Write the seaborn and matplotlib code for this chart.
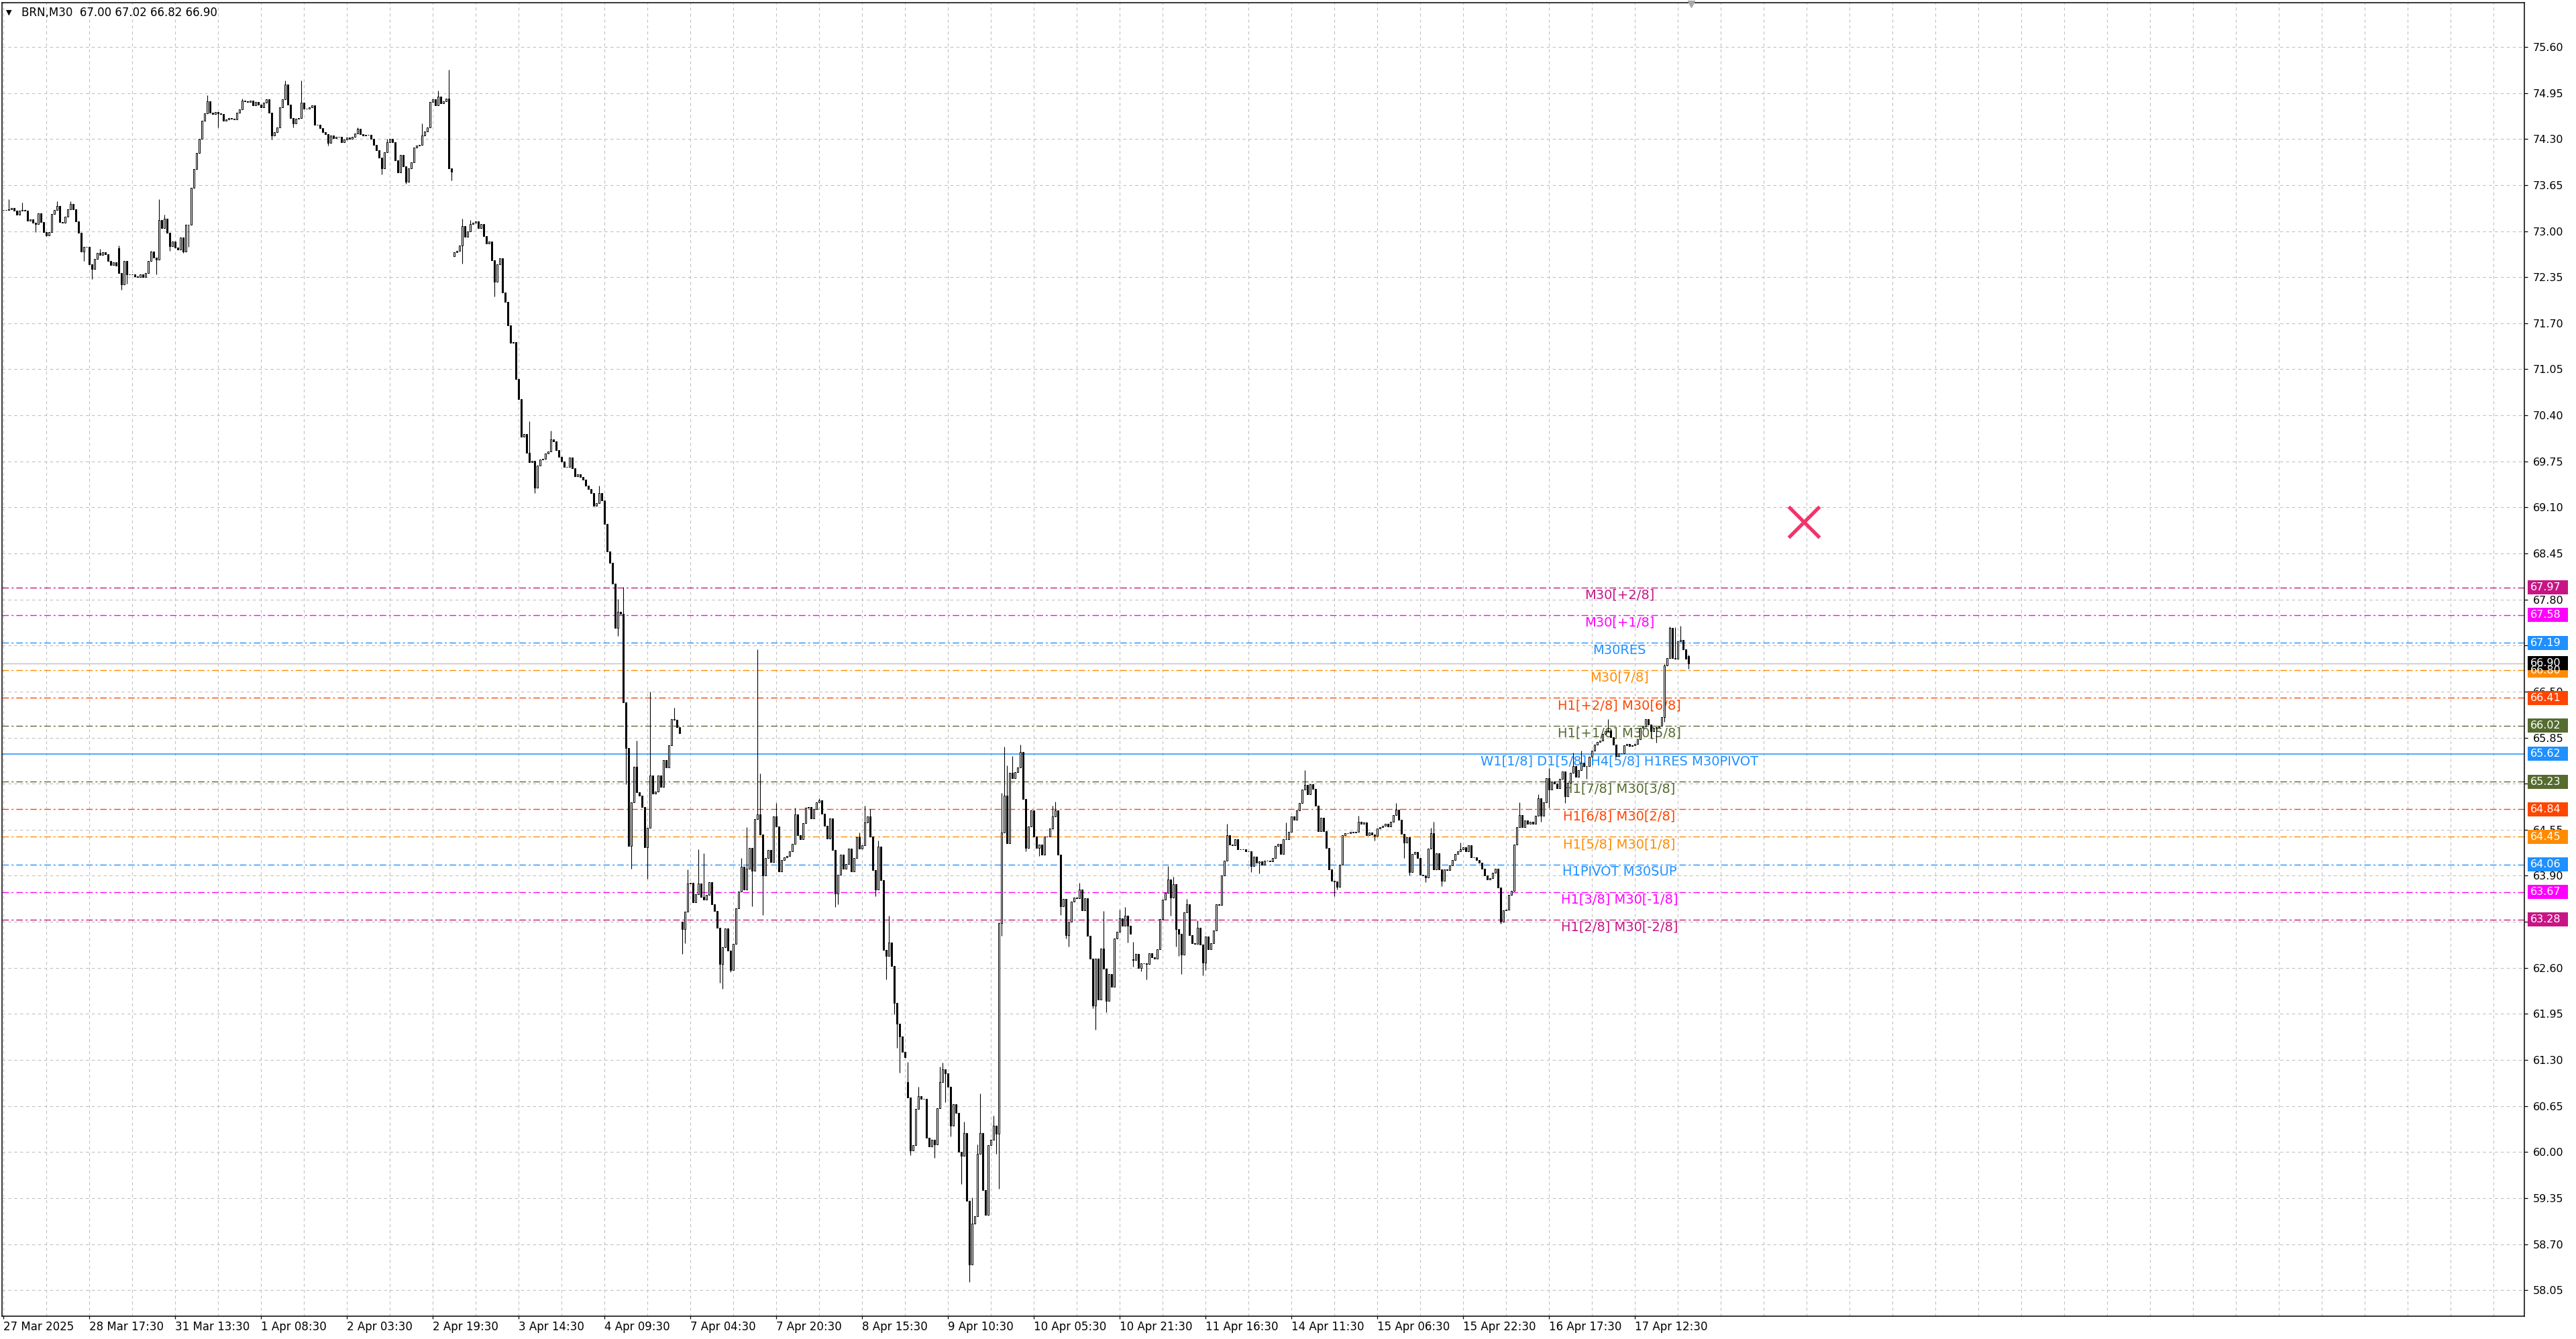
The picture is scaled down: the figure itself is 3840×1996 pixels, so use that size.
import numpy as np
import pandas as pd
import matplotlib
matplotlib.use("Agg")
import matplotlib.pyplot as plt
import seaborn as sns
from matplotlib.patches import Rectangle
from matplotlib.transforms import blended_transform_factory

# ---------------- data (M30 closes) ----------------
closes_27mar_2apr = [
    73.30, 73.30, 73.31, 73.33, 73.29, 73.23, 73.29, 73.30, 73.29, 73.15,
    73.17, 73.12, 73.10, 73.25, 73.13, 72.99, 72.94, 72.99, 73.24, 73.30,
    73.36, 73.13, 73.12, 73.20, 73.31, 73.38, 73.31, 73.14, 72.98, 72.71,
    72.78, 72.78, 72.53, 72.47, 72.61, 72.69, 72.66, 72.70, 72.67, 72.58,
    72.52, 72.56, 72.51, 72.41, 72.25, 72.58, 72.39, 72.39, 72.39, 72.36,
    72.35, 72.39, 72.35, 72.41, 72.58, 72.71, 72.63, 72.60, 73.16, 73.04,
    73.18, 72.98, 72.79, 72.85, 72.77, 72.74, 72.91, 72.71, 73.09, 73.09,
    73.61, 73.88, 74.10, 74.30, 74.56, 74.66, 74.83, 74.67, 74.65, 74.68,
    74.66, 74.65, 74.56, 74.58, 74.60, 74.59, 74.58, 74.67, 74.72, 74.84,
    74.83, 74.82, 74.84, 74.78, 74.82, 74.79, 74.75, 74.81, 74.86, 74.67,
    74.35, 74.40, 74.46, 74.75, 74.86, 75.07, 74.79, 74.60, 74.52, 74.59,
    74.60, 74.81, 74.73, 74.73, 74.75, 74.78, 74.50, 74.50, 74.45, 74.40,
    74.37, 74.25, 74.35, 74.31, 74.33, 74.33, 74.26, 74.29, 74.32, 74.30,
    74.33, 74.38, 74.44, 74.37, 74.35, 74.36, 74.36, 74.30, 74.22, 74.14,
    74.04, 73.89, 74.11, 74.26, 74.30, 74.26, 74.00, 73.83, 74.08, 73.91,
    73.70, 73.89, 73.97, 74.18, 74.21, 74.22, 74.35, 74.41, 74.46, 74.82,
    74.86, 74.78, 74.90, 74.80, 74.83, 74.87, 73.89, 73.84,
]
closes_3apr_4apr = [
    72.70, 72.72, 72.80, 73.07, 72.92, 73.00, 73.10, 73.12, 73.14, 73.04,
    73.10, 72.93, 72.83, 72.85, 72.59, 72.29, 72.53, 72.62, 72.13, 72.00,
    71.67, 71.42, 71.43, 70.91, 70.63, 70.10, 70.14, 69.87, 69.74, 69.76,
    69.38, 69.69, 69.78, 69.79, 69.86, 69.89, 70.06, 70.03, 69.91, 69.81,
    69.75, 69.67, 69.67, 69.80, 69.65, 69.54, 69.57, 69.53, 69.49, 69.41,
    69.36, 69.30, 69.12, 69.16, 69.30, 69.20, 68.87, 68.48, 68.32, 68.02,
    67.40, 67.63, 67.60, 66.35, 65.70, 64.32, 64.94, 65.44, 65.08, 65.03,
    64.87, 64.30, 64.58, 65.32, 65.06, 65.09, 65.32, 65.15, 65.53, 65.43,
    65.74, 66.11, 66.10, 66.00, 65.91,
]
closes_7apr_9apr = [
    63.15, 63.39, 63.79, 63.80, 63.53, 63.64, 63.79, 63.60, 63.56, 63.63,
    63.81, 63.50, 63.40, 63.17, 62.65, 62.89, 63.16, 62.84, 62.57, 62.94,
    63.44, 63.68, 64.03, 63.71, 64.00, 64.29, 63.97, 64.70, 64.77, 64.48,
    63.90, 64.15, 64.26, 64.09, 64.74, 64.60, 63.96, 64.12, 64.16, 64.18,
    64.25, 64.35, 64.77, 64.47, 64.42, 64.64, 64.86, 64.87, 64.71, 64.84,
    64.94, 64.97, 64.78, 64.61, 64.43, 64.71, 64.26, 63.65, 63.91, 64.20,
    64.00, 64.07, 64.28, 63.96, 64.15, 64.44, 64.28, 64.33, 64.65, 64.74,
    64.45, 63.98, 63.71, 64.31, 63.84, 62.85, 62.77, 62.96, 62.63, 62.11,
    61.81, 61.63, 61.41, 61.34, 60.77, 60.02, 60.10, 60.61, 60.79, 60.75,
    60.75, 60.20, 60.08, 60.17, 60.11, 60.62, 60.99, 61.17, 61.11, 60.92,
    60.37, 60.68, 60.55, 60.00, 59.95, 60.27, 59.31, 58.41, 58.99, 59.09,
    59.97, 60.27, 59.46, 59.11, 60.10, 60.17, 60.37, 60.26,
]
closes_9apr_14apr = [
    63.23, 64.51, 65.03, 64.36, 65.35, 65.28, 65.36, 65.43, 65.65, 64.98,
    64.29, 64.60, 64.82, 64.45, 64.29, 64.34, 64.20, 64.45, 64.45, 64.57,
    64.74, 64.82, 64.20, 63.47, 63.57, 63.06, 63.25, 63.54, 63.59, 63.58,
    63.71, 63.41, 63.58, 63.05, 62.73, 62.07, 62.73, 62.15, 62.87, 62.59,
    62.13, 62.51, 62.33, 63.01, 63.11, 63.30, 63.19, 63.34, 63.19, 63.08,
    62.71, 62.80, 62.60, 62.66, 62.66, 62.65, 62.81, 62.75, 62.73, 62.86,
    63.29, 63.56, 63.66, 63.85, 63.59, 63.78, 63.15, 63.08, 62.79, 63.38,
    63.50, 63.06, 62.95, 62.94, 63.17, 62.93, 62.67, 63.04, 62.86, 62.95,
    63.13, 63.50, 63.49, 63.90, 64.11, 64.47, 64.34, 64.33, 64.42, 64.27,
    64.27, 64.27, 64.25, 64.25, 64.04, 64.17, 64.08, 64.10, 64.06, 64.11,
    64.11, 64.10, 64.15, 64.32, 64.35, 64.21, 64.42, 64.42, 64.52, 64.74,
    64.69, 64.82, 64.93, 65.12, 65.18, 65.05, 65.19, 65.13, 64.89, 64.53,
    64.72, 64.53, 64.29, 63.99, 63.83, 63.82, 63.74, 64.06,
]
closes_14apr_17apr = [
    64.47, 64.50, 64.50, 64.52, 64.51, 64.52, 64.66, 64.63, 64.65, 64.47,
    64.51, 64.48, 64.46, 64.57, 64.59, 64.61, 64.63, 64.60, 64.66, 64.76,
    64.83, 64.69, 64.49, 64.37, 64.44, 63.95, 64.21, 64.24, 64.15, 63.91,
    63.90, 63.88, 64.28, 64.50, 63.99, 64.22, 63.99, 63.83, 63.99, 63.98,
    64.05, 64.12, 64.21, 64.25, 64.27, 64.30, 64.25, 64.33, 64.16, 64.16,
    64.12, 64.08, 64.00, 63.90, 63.85, 63.87, 63.94, 64.00, 63.73, 63.25,
    63.41, 63.42, 63.63, 63.69, 64.34, 64.59, 64.76, 64.59, 64.68, 64.63,
    64.66, 64.63, 64.75, 64.99, 64.75, 64.94, 65.28, 65.12, 65.23, 65.20,
    65.14, 65.27, 65.37, 65.02, 65.21, 65.35, 65.45, 65.30, 65.39, 65.50,
    65.45, 65.45, 65.58, 65.67, 65.75, 65.79, 65.81, 65.90, 65.94, 65.95,
    65.86, 65.75, 65.59, 65.63, 65.63, 65.74, 65.76, 65.73, 65.74, 65.76,
    65.83, 65.99, 66.01, 66.11, 66.04, 65.94, 65.99, 66.00, 66.02, 66.14,
    66.87, 66.97, 67.40, 66.97, 66.96, 67.21, 67.23, 67.10, 66.96, 66.90,
]

# opens that differ from the previous close (session gaps)
open_gaps = {43: 72.76, 168: 72.65, 253: 63.25, 337: 60.99, 421: 62.72, 628: 67.00}

# wick extremes (bar index -> price)
wick_highs = {
    2: 73.45, 7: 73.40, 20: 73.42, 25: 73.42, 36: 72.75, 43: 72.80, 55: 72.72, 58: 73.45,
    60: 73.23, 76: 74.92, 89: 74.87, 105: 75.13, 111: 75.13, 132: 74.46, 143: 74.30,
    156: 74.52, 162: 74.98, 166: 75.28, 171: 73.18, 174: 73.16, 196: 70.32, 204: 70.18,
    222: 69.41, 229: 67.81, 231: 67.98, 236: 65.81, 241: 66.50, 250: 66.27, 255: 63.99,
    259: 64.27, 261: 64.22, 275: 64.15, 277: 64.59, 281: 67.10, 282: 65.34, 288: 64.93,
    295: 64.86, 304: 64.99, 319: 64.51, 321: 64.89, 323: 64.84, 326: 64.40, 330: 63.34,
    337: 61.27, 341: 60.92, 349: 61.21, 350: 61.26, 358: 60.43, 361: 59.36, 363: 60.11,
    364: 60.83, 369: 60.51, 372: 65.07, 373: 65.72, 374: 65.46, 376: 65.59, 379: 65.75,
    391: 64.89, 392: 64.95, 401: 63.80, 410: 63.40, 416: 63.42, 418: 63.46, 421: 62.97,
    434: 64.04, 436: 63.89, 441: 63.57, 445: 63.27, 456: 64.63, 478: 64.65, 485: 65.39,
    505: 64.75, 519: 64.93, 532: 64.58, 533: 64.66, 543: 64.37, 565: 64.94, 572: 65.05,
    576: 65.42, 585: 65.64, 588: 65.67, 598: 66.11, 619: 66.89, 621: 67.42, 623: 67.41,
    625: 67.43, 628: 67.02,
}
wick_lows = {
    12: 72.99, 16: 72.93, 30: 72.58, 33: 72.32, 44: 72.17, 46: 72.26, 57: 72.39, 62: 72.72,
    67: 72.69, 69: 72.78, 80: 74.46, 100: 74.29, 108: 74.46, 121: 74.21, 141: 73.80,
    150: 73.67, 167: 73.72, 171: 72.54, 183: 72.08, 198: 69.30, 229: 67.29, 232: 65.19,
    234: 64.00, 240: 63.86, 253: 62.80, 254: 62.95, 267: 62.39, 268: 62.30, 271: 62.54,
    279: 63.47, 283: 63.35, 310: 63.46, 311: 63.50, 325: 63.61, 329: 62.44, 332: 61.94,
    333: 61.47, 334: 61.12, 338: 59.96, 347: 59.92, 351: 60.70, 353: 60.22, 357: 59.55,
    360: 58.17, 370: 59.97, 371: 59.48, 372: 63.05, 381: 64.25, 386: 64.18, 394: 63.35,
    396: 63.01, 397: 62.90, 406: 62.03, 407: 61.73, 411: 61.97, 419: 62.96, 421: 62.62,
    424: 62.55, 426: 62.44, 435: 63.34, 437: 62.90, 438: 62.77, 439: 62.51, 447: 62.49,
    448: 62.57, 465: 63.95, 468: 63.93, 496: 63.61, 497: 63.71, 511: 64.40, 522: 64.15,
    524: 63.90, 530: 63.81, 536: 63.75, 558: 63.22, 573: 64.66, 576: 64.86, 582: 64.93,
    590: 65.27, 614: 65.85, 616: 65.78, 619: 66.07, 628: 66.82,
}

time_labels = ["27 Mar 2025", "28 Mar 17:30", "31 Mar 13:30", "1 Apr 08:30", "2 Apr 03:30",
               "2 Apr 19:30", "3 Apr 14:30", "4 Apr 09:30", "7 Apr 04:30", "7 Apr 20:30",
               "8 Apr 15:30", "9 Apr 10:30", "10 Apr 05:30", "10 Apr 21:30", "11 Apr 16:30",
               "14 Apr 11:30", "15 Apr 06:30", "15 Apr 22:30", "16 Apr 17:30", "17 Apr 12:30"]

level_prices = [67.97, 67.58, 67.19, 66.80, 66.41, 66.02, 65.62, 65.23, 64.84, 64.45, 64.06, 63.67, 63.28]
level_names = ["M30[+2/8]", "M30[+1/8]", "M30RES", "M30[7/8]", "H1[+2/8] M30[6/8]",
               "H1[+1/8] M30[5/8]", "W1[1/8] D1[5/8] H4[5/8] H1RES M30PIVOT",
               "H1[7/8] M30[3/8]", "H1[6/8] M30[2/8]", "H1[5/8] M30[1/8]", "H1PIVOT M30SUP",
               "H1[3/8] M30[-1/8]", "H1[2/8] M30[-2/8]"]
level_colors = ["#C71585", "#FF00FF", "#1E90FF", "#FF8C00", "#FF4500", "#556B2F", "#1E90FF",
                "#556B2F", "#FF4500", "#FF8C00", "#1E90FF", "#FF00FF", "#C71585"]
level_solid = [False, False, False, False, False, False, True, False, False, False, False, False, False]

bid_price = 66.90
header = "BRN,M30  67.00 67.02 66.82 66.90"
y_ticks = [58.05, 58.70, 59.35, 60.00, 60.65, 61.30, 61.95, 62.60, 63.25, 63.90, 64.55, 65.20,
           65.85, 66.50, 67.15, 67.80, 68.45, 69.10, 69.75, 70.40, 71.05, 71.70, 72.35, 73.00,
           73.65, 74.30, 74.95, 75.60]
marker_bar = [671]
marker_price = [68.90]

# ---------------- build OHLC ----------------
closes = np.array(closes_27mar_2apr + closes_3apr_4apr + closes_7apr_9apr +
                  closes_9apr_14apr + closes_14apr_17apr)
n = len(closes)
opens = np.r_[closes[0], closes[:-1]]
for i, v in open_gaps.items():
    if i < n:
        opens[i] = v
highs = np.maximum(opens, closes)
lows = np.minimum(opens, closes)
for i, v in wick_highs.items():
    if i < n:
        highs[i] = max(highs[i], v)
for i, v in wick_lows.items():
    if i < n:
        lows[i] = min(lows[i], v)
df = pd.DataFrame({"bar": np.arange(n), "open": opens, "high": highs, "low": lows, "close": closes})
df["up"] = df["close"] >= df["open"]

# ---------------- figure ----------------
sns.set_theme(style="white")
plt.rcParams["font.family"] = ["DejaVu Sans"]

W, H = 3840, 1996
fig = plt.figure(figsize=(W / 100, H / 100), dpi=100)
fig.patch.set_facecolor("white")
ax_l, ax_r, ax_t, ax_b = 3, 3763, 4, 1962
ax = fig.add_axes([ax_l / W, 1 - ax_b / H, (ax_r - ax_l) / W, (ax_b - ax_t) / H])
ax.set_facecolor("white")

ymin, ymax = 57.683, 76.225
xmin, xmax = -0.5, 939.5
ax.set_xlim(xmin, xmax)
ax.set_ylim(ymin, ymax)

# grid / ticks
grid_kw = dict(color="#C0C0C0", linestyle=(0, (4, 4)), linewidth=0.8)
major_x = [32 * k for k in range(len(time_labels))]
minor_x = [16 * k for k in range(1, 59) if 16 * k not in major_x]
ax.set_xticks(major_x)
ax.set_xticklabels(time_labels, ha="left")
ax.set_xticks(minor_x, minor=True)
ax.set_yticks(y_ticks)
ax.set_yticklabels([f"{v:.2f}" for v in y_ticks])
ax.yaxis.tick_right()
ax.set_axisbelow(True)
ax.grid(which="both", axis="x", **grid_kw)
ax.grid(which="major", axis="y", **grid_kw)
ax.tick_params(axis="x", which="major", length=3, width=0.9, pad=2, labelsize=12, colors="black",
               direction="out", bottom=True)
ax.tick_params(axis="x", which="minor", length=0)
ax.tick_params(axis="y", which="major", length=3.6, width=0.9, pad=5.5, labelsize=11.5,
               colors="black", direction="out", right=True, left=False)
for s in ax.spines.values():
    s.set_color("black")
    s.set_linewidth(1.1)

# level lines
for p, c, solid in zip(level_prices, level_colors, level_solid):
    if solid:
        ax.axhline(p, color=c, linewidth=1.1, zorder=1)
    else:
        ax.axhline(p, color=c, linewidth=1.0, linestyle=(0, (7, 3, 2, 3)), zorder=1)
ax.axhline(bid_price, color="#C0C0C0", linewidth=1.0, zorder=1)

# level labels
label_bar = 602.25
for p, name, c in zip(level_prices, level_names, level_colors):
    ax.text(label_bar, p - 0.105, name, color=c, fontsize=14, ha="center", va="center", zorder=2)

# candles
ax.vlines(df["bar"], df["low"], df["high"], color="black", linewidth=0.8, zorder=3)
body_bottom = np.minimum(df["open"], df["close"])
body_h = np.abs(df["close"] - df["open"])
faces = np.where(df["up"], "white", "black")
ax.bar(df["bar"], body_h, bottom=body_bottom, width=0.5, color=faces, edgecolor="black",
       linewidth=0.75, zorder=4)

# red cross object
sns.scatterplot(x=marker_bar, y=marker_price, marker="x", s=1100, color="#F2336A",
                linewidth=3.8, ax=ax, zorder=6, legend=False)
ax.set_xlabel("")
ax.set_ylabel("")

# price tags on the right scale
trans = blended_transform_factory(ax.transAxes, ax.transData)
tag_x0 = (3768 - ax_l) / (ax_r - ax_l)
tag_w = 60 / (ax_r - ax_l)
px_per_unit = (ax_b - ax_t) / (ymax - ymin)
tag_h = 21 / px_per_unit
txt_x = (3772 - ax_l) / (ax_r - ax_l)
tags = list(zip(level_prices, level_colors)) + [(bid_price, "black")]
for p, c in tags:
    ax.add_patch(Rectangle((tag_x0, p - tag_h / 2), tag_w, tag_h, transform=trans,
                           facecolor=c, edgecolor="none", clip_on=False, zorder=8))
    ax.text(txt_x, p, f"{p:.2f}", transform=trans, color="white", fontsize=11.5,
            ha="left", va="center", clip_on=False, zorder=9)

# chart shift marker at the top
ax.plot([629], [ymax - 0.02], marker="v", markersize=7, color="#A8A8A8", clip_on=False, zorder=9)

# header
fig.text(9 / W, 1 - 19 / H, "\u25BC", fontsize=8, ha="left", va="center", color="black")
fig.text(32 / W, 1 - 19 / H, header, fontsize=12, ha="left", va="center", color="black")

fig.savefig("out.png", dpi=100, facecolor="white")
print(n)
